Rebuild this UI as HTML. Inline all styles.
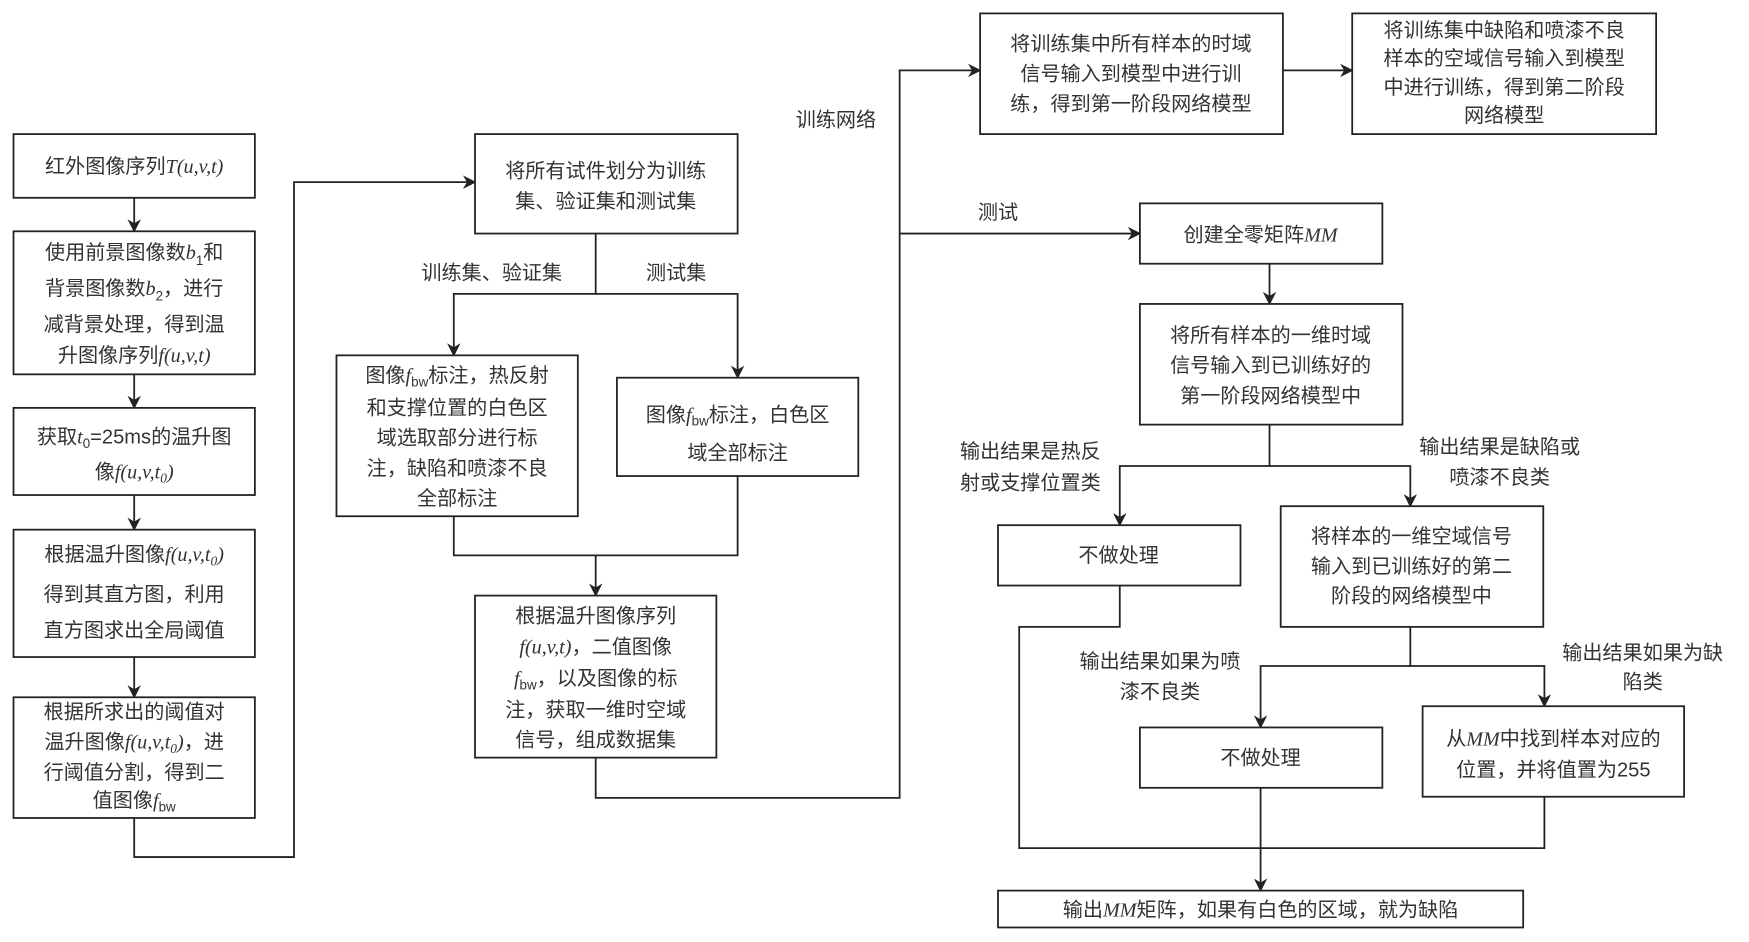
<!DOCTYPE html>
<html><head><meta charset="utf-8"><style>
html,body{margin:0;padding:0;background:#fff}
svg{display:block}
text{font-family:"Liberation Sans","Noto Sans CJK SC",sans-serif;font-size:18px;fill:#333;text-anchor:middle}
.i{font-family:"Liberation Serif",serif;font-style:italic}
.s{font-size:12px}
rect{fill:#fff;stroke:#222;stroke-width:1.6}
.l{fill:none;stroke:#222;stroke-width:1.6}
</style></head><body>
<svg width="1749" height="942" viewBox="0 0 1565 843" xmlns="http://www.w3.org/2000/svg">
<defs><marker id="a" viewBox="0 0 10 10" refX="9" refY="5" markerWidth="12" markerHeight="12" markerUnits="userSpaceOnUse" orient="auto"><path d="M0,0L10,5L0,10L3,5z" fill="#222"/></marker></defs>

<g class="l" marker-end="url(#a)">
<path class="l" d="M120,177V207"/>
<path class="l" d="M120,335V365"/>
<path class="l" d="M120,443V474"/>
<path class="l" d="M120,588V624"/>
<path class="l" d="M120,732V767H263V163H425"/>
<path class="l" d="M533,209V263H406V318"/>
<path class="l" d="M533,263H660V338"/>
<path class="l" d="M533,497V533"/>
<path class="l" d="M533,678V714H805V63H877"/>
<path class="l" d="M805,209H1020"/>
<path class="l" d="M1148,63H1210"/>
<path class="l" d="M1136,236V272"/>
<path class="l" d="M1136,380V417H1002V470"/>
<path class="l" d="M1136,417H1262V453"/>
<path class="l" d="M1262,561V596H1128V651"/>
<path class="l" d="M1262,596H1382V632"/>
<path class="l" d="M1128,705V797"/>
</g>
<path class="l" d="M406,462V497H660V426"/>
<path class="l" d="M1002,524V561H912V759H1382V713"/>

<rect x="12" y="120" width="216" height="57"/>
<rect x="12" y="207" width="216" height="128"/>
<rect x="12" y="365" width="216" height="78"/>
<rect x="12" y="474" width="216" height="114"/>
<rect x="12" y="624" width="216" height="108"/>
<rect x="425" y="120" width="235" height="89"/>
<rect x="301" y="318" width="216" height="144"/>
<rect x="552" y="338" width="216" height="88"/>
<rect x="425" y="533" width="216" height="145"/>
<rect x="877" y="12" width="271" height="108"/>
<rect x="1210" y="12" width="272" height="108"/>
<rect x="1020" y="182" width="217" height="54"/>
<rect x="1020" y="272" width="235" height="108"/>
<rect x="893" y="470" width="217" height="54"/>
<rect x="1146" y="453" width="235" height="108"/>
<rect x="1020" y="651" width="217" height="54"/>
<rect x="1273" y="632" width="234" height="81"/>
<rect x="893" y="797" width="470" height="33"/>

<text x="120" y="155">红外图像序列<tspan class="i">T(u,v,t)</tspan></text>
<text x="120" y="232">使用前景图像数<tspan class="i">b</tspan><tspan class="s" dy="5">1</tspan><tspan dy="-5">和</tspan></text>
<text x="120" y="264">背景图像数<tspan class="i">b</tspan><tspan class="s" dy="5">2</tspan><tspan dy="-5">，进行</tspan></text>
<text x="120" y="296">减背景处理，得到温</text>
<text x="120" y="324">升图像序列<tspan class="i">f(u,v,t)</tspan></text>
<text x="120" y="397">获取<tspan class="i">t</tspan><tspan class="s" dy="4">0</tspan><tspan dy="-4">=25ms的温升图</tspan></text>
<text x="120" y="428">像<tspan class="i">f(u,v,t</tspan><tspan class="s i" dy="4">0</tspan><tspan class="i" dy="-4">)</tspan></text>
<text x="120" y="502">根据温升图像<tspan class="i">f(u,v,t</tspan><tspan class="s i" dy="4">0</tspan><tspan class="i" dy="-4">)</tspan></text>
<text x="120" y="538">得到其直方图，利用</text>
<text x="120" y="570">直方图求出全局阈值</text>
<text x="120" y="643">根据所求出的阈值对</text>
<text x="120" y="670">温升图像<tspan class="i">f(u,v,t</tspan><tspan class="s i" dy="4">0</tspan><tspan class="i" dy="-4">)</tspan>，进</text>
<text x="120" y="697">行阈值分割，得到二</text>
<text x="120" y="722">值图像<tspan class="i">f</tspan><tspan class="s" dy="4">bw</tspan></text>

<text x="542" y="159">将所有试件划分为训练</text>
<text x="542" y="186">集、验证集和测试集</text>
<text x="440" y="250">训练集、验证集</text>
<text x="605" y="250">测试集</text>
<text x="409" y="342">图像<tspan class="i">f</tspan><tspan class="s" dy="4">bw</tspan><tspan dy="-4">标注，热反射</tspan></text>
<text x="409" y="371">和支撑位置的白色区</text>
<text x="409" y="398">域选取部分进行标</text>
<text x="409" y="425">注，缺陷和喷漆不良</text>
<text x="409" y="452">全部标注</text>
<text x="660" y="377">图像<tspan class="i">f</tspan><tspan class="s" dy="4">bw</tspan><tspan dy="-4">标注，白色区</tspan></text>
<text x="660" y="411">域全部标注</text>
<text x="533" y="557">根据温升图像序列</text>
<text x="533" y="585"><tspan class="i">f(u,v,t)</tspan>，二值图像</text>
<text x="533" y="613"><tspan class="i">f</tspan><tspan class="s" dy="4">bw</tspan><tspan dy="-4">，以及图像的标</tspan></text>
<text x="533" y="641">注，获取一维时空域</text>
<text x="533" y="668">信号，组成数据集</text>

<text x="748" y="113">训练网络</text>
<text x="893" y="196">测试</text>
<text x="1012" y="45">将训练集中所有样本的时域</text>
<text x="1012" y="72">信号输入到模型中进行训</text>
<text x="1012" y="99">练，得到第一阶段网络模型</text>
<text x="1346" y="33">将训练集中缺陷和喷漆不良</text>
<text x="1346" y="58">样本的空域信号输入到模型</text>
<text x="1346" y="84">中进行训练，得到第二阶段</text>
<text x="1346" y="109">网络模型</text>
<text x="1128" y="216">创建全零矩阵<tspan class="i">MM</tspan></text>
<text x="1137" y="306">将所有样本的一维时域</text>
<text x="1137" y="333">信号输入到已训练好的</text>
<text x="1137" y="360">第一阶段网络模型中</text>
<text x="922" y="410">输出结果是热反</text>
<text x="922" y="438">射或支撑位置类</text>
<text x="1342" y="406">输出结果是缺陷或</text>
<text x="1342" y="433">喷漆不良类</text>
<text x="1001" y="503">不做处理</text>
<text x="1263" y="486">将样本的一维空域信号</text>
<text x="1263" y="513">输入到已训练好的第二</text>
<text x="1263" y="539">阶段的网络模型中</text>
<text x="1038" y="598">输出结果如果为喷</text>
<text x="1038" y="625">漆不良类</text>
<text x="1470" y="590">输出结果如果为缺</text>
<text x="1470" y="616">陷类</text>
<text x="1128" y="684">不做处理</text>
<text x="1390" y="667">从<tspan class="i">MM</tspan>中找到样本对应的</text>
<text x="1390" y="695">位置，并将值置为255</text>
<text x="1128" y="820">输出<tspan class="i">MM</tspan>矩阵，如果有白色的区域，就为缺陷</text>
</svg>
</body></html>
